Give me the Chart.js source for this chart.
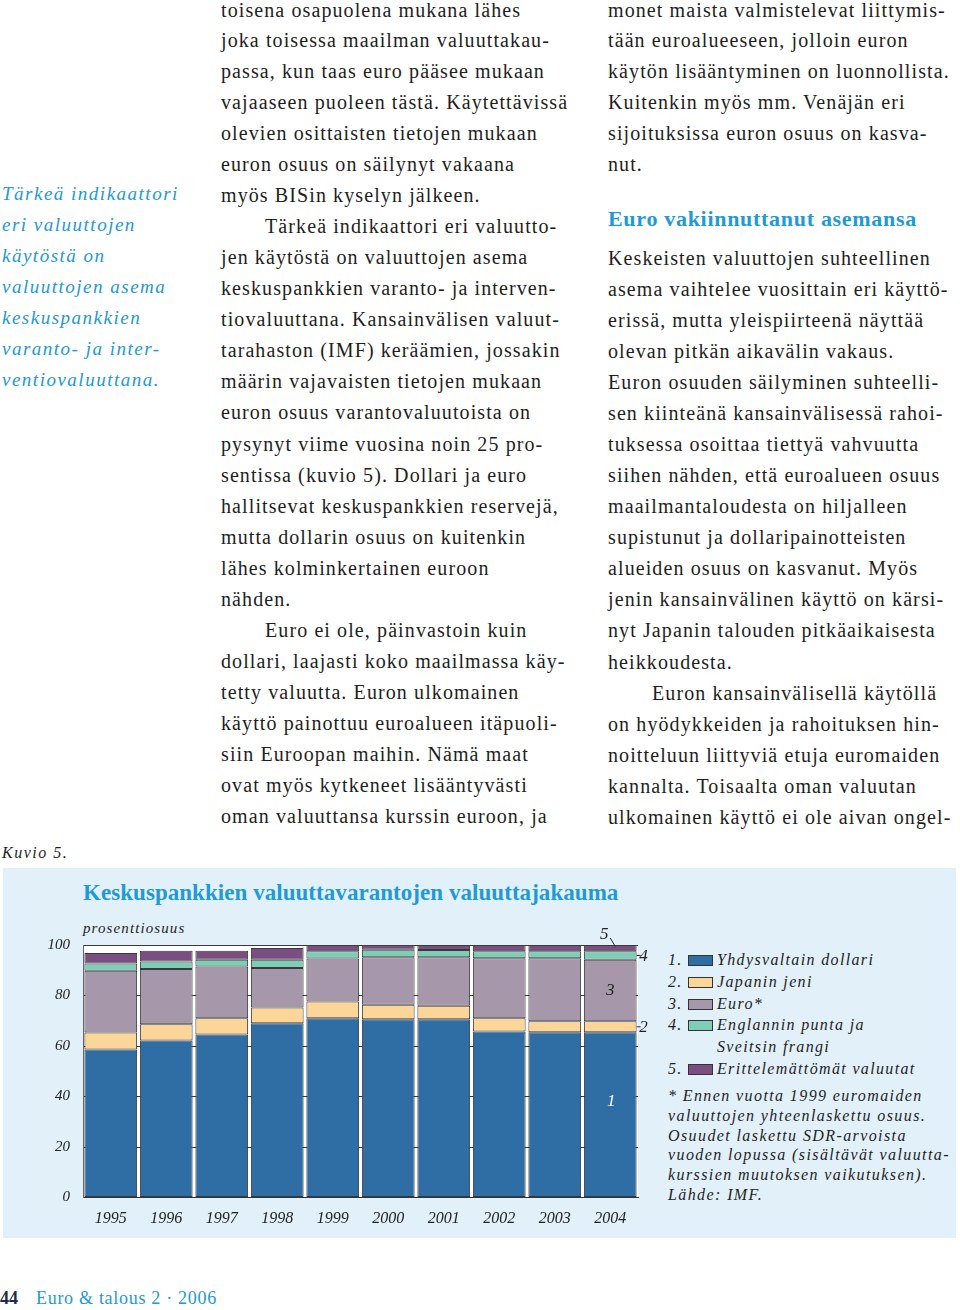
<!DOCTYPE html>
<html lang="fi">
<head>
<meta charset="utf-8">
<title>Kuvio 5</title>
<script src="https://cdn.jsdelivr.net/npm/chart.js@4"></script>
<style>
  html, body { margin: 0; padding: 0; background: #fff; }
  #page { position: relative; width: 960px; height: 1310px; overflow: hidden;
          font-family: 'Liberation Serif', 'DejaVu Serif', serif; color: #1e1e1e; }
  .txt { position: absolute; white-space: nowrap; font-size: 20px; line-height: 31.08px; letter-spacing: 1.1px; }
  .txt .first { line-height: 21px; height: 24.54px; }
  .ind { padding-left: 44px; }
  .side { position: absolute; left: 2px; top: 177.5px; white-space: nowrap; font-style: italic;
          font-size: 19px; line-height: 31px; letter-spacing: 1.5px; color: #2399d3; }
  .head { position: absolute; left: 608px; top: 206px; font-weight: bold; font-size: 22px;
          letter-spacing: 0.7px; color: #1f9ad6; white-space: nowrap; }
  #kuvio { position: absolute; left: 2px; top: 844px; font-style: italic; font-size: 16px; letter-spacing: 1.5px; }
  #box { position: absolute; left: 3px; top: 868px; width: 953px; height: 370px; background: #e2f0fa; }
  #title { position: absolute; left: 83px; top: 880px; font-weight: bold; font-size: 23px; letter-spacing: 0.05px;
           color: #1f9ad6; white-space: nowrap; }
  #unit { position: absolute; left: 83px; top: 920px; font-style: italic; font-size: 15px; letter-spacing: 1.1px; }
  #wrap { position: absolute; left: 0; top: 923px; width: 660px; height: 307px; }
  #legend { position: absolute; left: 668px; top: 949px; font-style: italic; font-size: 16px;
            line-height: 21.8px; letter-spacing: 1.35px; white-space: nowrap; }
  .lg-row { position: relative; padding-left: 49px; }
  .lg-num { position: absolute; left: 0; }
  .lg-sw { position: absolute; left: 20px; top: 6px; width: 23px; height: 9px; border: 1px solid #333; }
  #note { position: absolute; left: 668px; top: 1086px; font-style: italic; font-size: 16px;
          line-height: 19.8px; letter-spacing: 1.4px; white-space: nowrap; }
  #foot { position: absolute; left: 0; top: 1288px; font-size: 18px; white-space: nowrap; }
  #foot b { color: #1b2c4c; font-size: 18px; }
  #foot span { color: #2399d3; margin-left: 18px; letter-spacing: 0.7px; }
</style>
</head>
<body>
<div id="page">

  <div class="side">Tärkeä indikaattori<br>eri valuuttojen<br>käytöstä on<br>valuuttojen asema<br>keskuspankkien<br>varanto- ja inter-<br>ventiovaluuttana.</div>

  <div class="txt" style="left:221px; top:0;">
    <div class="first">toisena osapuolena mukana lähes</div>
    <div>joka toisessa maailman valuuttakau-</div>
    <div>passa, kun taas euro pääsee mukaan</div>
    <div>vajaaseen puoleen tästä. Käytettävissä</div>
    <div>olevien osittaisten tietojen mukaan</div>
    <div>euron osuus on säilynyt vakaana</div>
    <div>myös BISin kyselyn jälkeen.</div>
    <div class="ind">Tärkeä indikaattori eri valuutto-</div>
    <div>jen käytöstä on valuuttojen asema</div>
    <div>keskuspankkien varanto- ja interven-</div>
    <div>tiovaluuttana. Kansainvälisen valuut-</div>
    <div>tarahaston (IMF) keräämien, jossakin</div>
    <div>määrin vajavaisten tietojen mukaan</div>
    <div>euron osuus varantovaluutoista on</div>
    <div>pysynyt viime vuosina noin 25 pro-</div>
    <div>sentissa (kuvio 5). Dollari ja euro</div>
    <div>hallitsevat keskuspankkien reservejä,</div>
    <div>mutta dollarin osuus on kuitenkin</div>
    <div>lähes kolminkertainen euroon</div>
    <div>nähden.</div>
    <div class="ind">Euro ei ole, päinvastoin kuin</div>
    <div>dollari, laajasti koko maailmassa käy-</div>
    <div>tetty valuutta. Euron ulkomainen</div>
    <div>käyttö painottuu euroalueen itäpuoli-</div>
    <div>siin Euroopan maihin. Nämä maat</div>
    <div>ovat myös kytkeneet lisääntyvästi</div>
    <div>oman valuuttansa kurssin euroon, ja</div>
  </div>

  <div class="txt" style="left:608px; top:0;">
    <div class="first">monet maista valmistelevat liittymis-</div>
    <div>tään euroalueeseen, jolloin euron</div>
    <div>käytön lisääntyminen on luonnollista.</div>
    <div>Kuitenkin myös mm. Venäjän eri</div>
    <div>sijoituksissa euron osuus on kasva-</div>
    <div>nut.</div>
  </div>

  <div class="head">Euro vakiinnuttanut asemansa</div>

  <div class="txt" style="left:608px; top:242.5px;">
    <div>Keskeisten valuuttojen suhteellinen</div>
    <div>asema vaihtelee vuosittain eri käyttö-</div>
    <div>erissä, mutta yleispiirteenä näyttää</div>
    <div>olevan pitkän aikavälin vakaus.</div>
    <div>Euron osuuden säilyminen suhteelli-</div>
    <div>sen kiinteänä kansainvälisessä rahoi-</div>
    <div>tuksessa osoittaa tiettyä vahvuutta</div>
    <div>siihen nähden, että euroalueen osuus</div>
    <div>maailmantaloudesta on hiljalleen</div>
    <div>supistunut ja dollaripainotteisten</div>
    <div>alueiden osuus on kasvanut. Myös</div>
    <div>jenin kansainvälinen käyttö on kärsi-</div>
    <div>nyt Japanin talouden pitkäaikaisesta</div>
    <div>heikkoudesta.</div>
    <div class="ind">Euron kansainvälisellä käytöllä</div>
    <div>on hyödykkeiden ja rahoituksen hin-</div>
    <div>noitteluun liittyviä etuja euromaiden</div>
    <div>kannalta. Toisaalta oman valuutan</div>
    <div>ulkomainen käyttö ei ole aivan ongel-</div>
  </div>

  <div id="kuvio">Kuvio 5.</div>

  <div id="box"></div>
  <div id="title">Keskuspankkien valuuttavarantojen valuuttajakauma</div>
  <div id="unit">prosenttiosuus</div>
  <div id="wrap"><canvas id="chart"></canvas></div>
  <div id="legend"></div>
  <div id="note">* Ennen vuotta 1999 euromaiden<br>valuuttojen yhteenlaskettu osuus.<br>Osuudet laskettu SDR-arvoista<br>vuoden lopussa (sisältävät valuutta-<br>kurssien muutoksen vaikutuksen).<br>Lähde: IMF.</div>

  <div id="foot"><b>44</b><span>Euro &amp; talous 2 · 2006</span></div>
</div>

<script>
// Vuodet ja valuuttaosuudet (%), luettu kuvasta
const years = ['1995', '1996', '1997', '1998', '1999', '2000', '2001', '2002', '2003', '2004'];
const dollari = [58.6, 62.2, 64.6, 69.0, 71.0, 70.6, 70.6, 65.7, 65.4, 65.4];
const jeni = [6.7, 6.4, 6.4, 6.2, 6.6, 5.7, 5.3, 5.3, 4.4, 4.4];
const euro = [24.5, 21.9, 20.5, 15.7, 17.1, 18.8, 19.2, 23.8, 25.0, 24.4];
const puntaFrangi = [2.9, 3.0, 2.7, 3.3, 2.8, 3.0, 2.9, 2.7, 2.7, 3.3];
const muut = [4.1, 4.2, 3.5, 4.6, 2.5, 2.0, 2.0, 2.5, 2.5, 2.5];
const yTicks = [0, 20, 40, 60, 80, 100];

const seriesNames = ['Yhdysvaltain dollari', 'Japanin jeni', 'Euro*', 'Englannin punta ja\nSveitsin frangi', 'Erittelemättömät valuutat'];
const seriesColors = ['#2f6ea5', '#fcd699', '#a697ab', '#7ecdb7', '#7a4e80'];
const seriesData = [dollari, jeni, euro, puntaFrangi, muut];

const serif = "'Liberation Serif', 'DejaVu Serif', serif";

// Selite HTML:nä (numeroitu, kuten alkuperäisessä)
const legend = document.getElementById('legend');
seriesNames.forEach((name, i) => {
    const row = document.createElement('div');
    row.className = 'lg-row';
    row.innerHTML = `<span class="lg-num">${i + 1}.</span><span class="lg-sw" style="background:${seriesColors[i]}"></span>${name.replace('\n', '<br>')}`;
    legend.appendChild(row);
});

// Valkoinen piirtoalue
const plotBg = {
    id: 'plotBg',
    beforeDraw(chart) {
        const a = chart.chartArea, ctx = chart.ctx;
        ctx.save();
        ctx.fillStyle = '#ffffff';
        ctx.fillRect(a.left, a.top, a.right - a.left, a.bottom - a.top);
        ctx.restore();
    }
};

// Sarjojen numerot viimeisen pylvään kohdalla
const seriesNumbers = {
    id: 'seriesNumbers',
    afterDatasetsDraw(chart) {
        const ctx = chart.ctx;
        const last = years.length - 1;
        const bar = d => chart.getDatasetMeta(d).data[last];
        const yScale = chart.scales.y;
        const b0 = bar(0);
        const right = b0.x + b0.width / 2;
        const mid = d => (bar(d).y + bar(d).base) / 2;

        ctx.save();
        ctx.font = `italic 17px ${serif}`;
        ctx.textAlign = 'center';
        ctx.textBaseline = 'middle';
        ctx.strokeStyle = '#222';
        ctx.lineWidth = 1;

        ctx.fillStyle = '#ffffff';
        ctx.fillText('1', b0.x + 1, yScale.getPixelForValue(38));

        ctx.fillStyle = '#222';
        ctx.fillText('3', b0.x, mid(2));

        [[1, '2'], [3, '4']].forEach(([d, t]) => {
            const y = mid(d);
            ctx.beginPath();
            ctx.moveTo(right, y);
            ctx.lineTo(right + 4, y);
            ctx.stroke();
            ctx.fillText(t, right + 7, y + 1);
        });

        const top = bar(4).y;
        ctx.fillText('5', b0.x - 6, top - 10);
        ctx.beginPath();
        ctx.moveTo(b0.x, top - 7);
        ctx.lineTo(b0.x + 5, top + 1.5);
        ctx.stroke();
        ctx.restore();
    }
};

new Chart(document.getElementById('chart'), {
    type: 'bar',
    data: {
        labels: years,
        datasets: seriesData.map((vals, i) => ({
            label: seriesNames[i].replace('\n', ' '),
            data: vals,
            backgroundColor: seriesColors[i],
            borderColor: '#3a3a3a',
            borderWidth: 1,
            borderSkipped: false,
            barPercentage: 0.95,
            categoryPercentage: 1.0
        }))
    },
    options: {
        responsive: true,
        maintainAspectRatio: false,
        animation: false,
        layout: { padding: { top: 8, right: 22, left: 0, bottom: 0 } },
        plugins: {
            legend: { display: false },
            tooltip: { enabled: false }
        },
        scales: {
            x: {
                stacked: true,
                grid: { display: false },
                border: { display: true, color: '#333', width: 1 },
                ticks: { color: '#222', padding: 4, font: { family: serif, size: 16, style: 'italic' } },
                afterFit(scale) { scale.height = 32.5; }
            },
            y: {
                stacked: true,
                min: 0,
                max: 100,
                afterBuildTicks(scale) { scale.ticks = yTicks.map(v => ({ value: v })); },
                grid: { color: '#3a3a3a', lineWidth: 1, drawTicks: false },
                border: { display: true, color: '#666', width: 1 },
                ticks: { color: '#222', padding: 13, font: { family: serif, size: 15, style: 'italic' } },
                afterFit(scale) { scale.width = 83; }
            }
        }
    },
    plugins: [plotBg, seriesNumbers]
});
</script>
</body>
</html>
